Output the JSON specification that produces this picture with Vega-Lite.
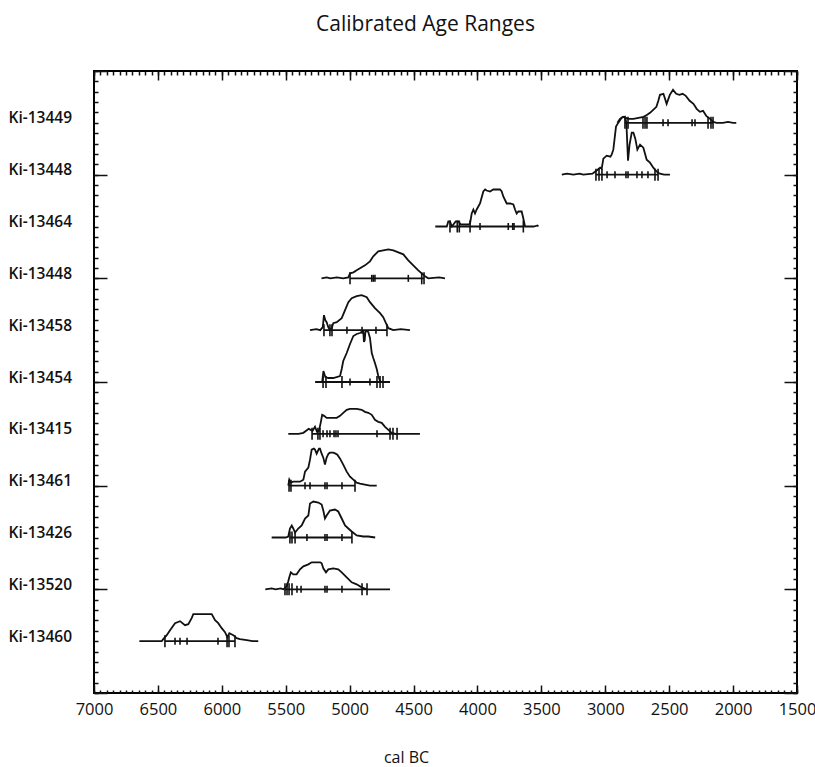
{
  "$schema": "https://vega.github.io/schema/vega-lite/v6.json",
  "width": 703,
  "height": 622,
  "autosize": {"type": "none"},
  "padding": {"left": 94, "top": 71, "right": 18, "bottom": 74},
  "title": {"text": "Calibrated Age Ranges", "fontSize": 21, "fontWeight": "normal", "font": "Open Sans", "color": "#111", "anchor": "middle", "frame": "group", "dx": -20, "offset": 16, "baseline": "alphabetic"},
  "config": {
    "view": {"stroke": "#000", "strokeWidth": 2},
    "font": "Open Sans",
    "axis": {"domain": false, "grid": false, "tickColor": "#111", "tickWidth": 1.5, "labelColor": "#111", "titleColor": "#111"}
  },
  "datasets": {
    "curves": [
      {"id":1,"sample":"Ki-13449","year":2905,"density":0},{"id":1,"sample":"Ki-13449","year":2885,"density":4},{"id":1,"sample":"Ki-13449","year":2860,"density":6},{"id":1,"sample":"Ki-13449","year":2840,"density":5},{"id":1,"sample":"Ki-13449","year":2820,"density":4},{"id":1,"sample":"Ki-13449","year":2780,"density":4},{"id":1,"sample":"Ki-13449","year":2740,"density":5},{"id":1,"sample":"Ki-13449","year":2700,"density":6},{"id":1,"sample":"Ki-13449","year":2672,"density":8},{"id":1,"sample":"Ki-13449","year":2650,"density":10},{"id":1,"sample":"Ki-13449","year":2625,"density":13},{"id":1,"sample":"Ki-13449","year":2600,"density":16},{"id":1,"sample":"Ki-13449","year":2585,"density":22},{"id":1,"sample":"Ki-13449","year":2572,"density":28},{"id":1,"sample":"Ki-13449","year":2545,"density":29},{"id":1,"sample":"Ki-13449","year":2520,"density":19},{"id":1,"sample":"Ki-13449","year":2495,"density":28},{"id":1,"sample":"Ki-13449","year":2470,"density":33},{"id":1,"sample":"Ki-13449","year":2445,"density":29},{"id":1,"sample":"Ki-13449","year":2420,"density":28},{"id":1,"sample":"Ki-13449","year":2395,"density":29},{"id":1,"sample":"Ki-13449","year":2370,"density":27},{"id":1,"sample":"Ki-13449","year":2340,"density":22},{"id":1,"sample":"Ki-13449","year":2310,"density":19},{"id":1,"sample":"Ki-13449","year":2285,"density":14},{"id":1,"sample":"Ki-13449","year":2260,"density":11},{"id":1,"sample":"Ki-13449","year":2235,"density":12},{"id":1,"sample":"Ki-13449","year":2210,"density":7},{"id":1,"sample":"Ki-13449","year":2180,"density":4},{"id":1,"sample":"Ki-13449","year":2155,"density":1},{"id":1,"sample":"Ki-13449","year":2130,"density":0},{"id":1,"sample":"Ki-13449","year":2080,"density":0},{"id":1,"sample":"Ki-13449","year":2040,"density":1},{"id":1,"sample":"Ki-13449","year":2000,"density":0},{"id":1,"sample":"Ki-13449","year":1975,"density":0},
      {"id":2,"sample":"Ki-13448","year":3340,"density":0},{"id":2,"sample":"Ki-13448","year":3300,"density":1},{"id":2,"sample":"Ki-13448","year":3250,"density":0},{"id":2,"sample":"Ki-13448","year":3200,"density":1},{"id":2,"sample":"Ki-13448","year":3172,"density":0},{"id":2,"sample":"Ki-13448","year":3100,"density":1},{"id":2,"sample":"Ki-13448","year":3070,"density":4},{"id":2,"sample":"Ki-13448","year":3040,"density":7},{"id":2,"sample":"Ki-13448","year":3028,"density":6},{"id":2,"sample":"Ki-13448","year":3015,"density":16},{"id":2,"sample":"Ki-13448","year":2989,"density":19},{"id":2,"sample":"Ki-13448","year":2960,"density":18},{"id":2,"sample":"Ki-13448","year":2950,"density":20},{"id":2,"sample":"Ki-13448","year":2937,"density":25},{"id":2,"sample":"Ki-13448","year":2916,"density":48},{"id":2,"sample":"Ki-13448","year":2898,"density":52},{"id":2,"sample":"Ki-13448","year":2872,"density":57},{"id":2,"sample":"Ki-13448","year":2846,"density":58},{"id":2,"sample":"Ki-13448","year":2835,"density":52},{"id":2,"sample":"Ki-13448","year":2822,"density":14},{"id":2,"sample":"Ki-13448","year":2810,"density":30},{"id":2,"sample":"Ki-13448","year":2793,"density":42},{"id":2,"sample":"Ki-13448","year":2780,"density":42},{"id":2,"sample":"Ki-13448","year":2765,"density":36},{"id":2,"sample":"Ki-13448","year":2749,"density":25},{"id":2,"sample":"Ki-13448","year":2728,"density":30},{"id":2,"sample":"Ki-13448","year":2702,"density":27},{"id":2,"sample":"Ki-13448","year":2676,"density":15},{"id":2,"sample":"Ki-13448","year":2650,"density":12},{"id":2,"sample":"Ki-13448","year":2624,"density":7},{"id":2,"sample":"Ki-13448","year":2598,"density":3},{"id":2,"sample":"Ki-13448","year":2572,"density":1},{"id":2,"sample":"Ki-13448","year":2540,"density":0},{"id":2,"sample":"Ki-13448","year":2494,"density":0},
      {"id":3,"sample":"Ki-13464","year":4330,"density":0},{"id":3,"sample":"Ki-13464","year":4240,"density":0},{"id":3,"sample":"Ki-13464","year":4228,"density":5},{"id":3,"sample":"Ki-13464","year":4215,"density":5},{"id":3,"sample":"Ki-13464","year":4200,"density":0},{"id":3,"sample":"Ki-13464","year":4170,"density":5},{"id":3,"sample":"Ki-13464","year":4150,"density":5},{"id":3,"sample":"Ki-13464","year":4130,"density":2},{"id":3,"sample":"Ki-13464","year":4070,"density":2},{"id":3,"sample":"Ki-13464","year":4058,"density":3},{"id":3,"sample":"Ki-13464","year":4045,"density":13},{"id":3,"sample":"Ki-13464","year":4032,"density":17},{"id":3,"sample":"Ki-13464","year":4019,"density":13},{"id":3,"sample":"Ki-13464","year":4006,"density":17},{"id":3,"sample":"Ki-13464","year":3980,"density":23},{"id":3,"sample":"Ki-13464","year":3965,"density":30},{"id":3,"sample":"Ki-13464","year":3954,"density":35},{"id":3,"sample":"Ki-13464","year":3940,"density":37},{"id":3,"sample":"Ki-13464","year":3928,"density":36},{"id":3,"sample":"Ki-13464","year":3902,"density":35},{"id":3,"sample":"Ki-13464","year":3876,"density":37},{"id":3,"sample":"Ki-13464","year":3850,"density":37},{"id":3,"sample":"Ki-13464","year":3824,"density":37},{"id":3,"sample":"Ki-13464","year":3810,"density":35},{"id":3,"sample":"Ki-13464","year":3798,"density":30},{"id":3,"sample":"Ki-13464","year":3771,"density":23},{"id":3,"sample":"Ki-13464","year":3745,"density":23},{"id":3,"sample":"Ki-13464","year":3719,"density":22},{"id":3,"sample":"Ki-13464","year":3706,"density":17},{"id":3,"sample":"Ki-13464","year":3693,"density":13},{"id":3,"sample":"Ki-13464","year":3680,"density":15},{"id":3,"sample":"Ki-13464","year":3654,"density":15},{"id":3,"sample":"Ki-13464","year":3641,"density":8},{"id":3,"sample":"Ki-13464","year":3628,"density":0},{"id":3,"sample":"Ki-13464","year":3560,"density":0},{"id":3,"sample":"Ki-13464","year":3530,"density":1},{"id":3,"sample":"Ki-13464","year":3524,"density":0},
      {"id":4,"sample":"Ki-13448","year":5220,"density":0},{"id":4,"sample":"Ki-13448","year":5180,"density":1},{"id":4,"sample":"Ki-13448","year":5150,"density":0},{"id":4,"sample":"Ki-13448","year":5100,"density":1},{"id":4,"sample":"Ki-13448","year":5050,"density":0},{"id":4,"sample":"Ki-13448","year":5010,"density":1},{"id":4,"sample":"Ki-13448","year":4997,"density":5},{"id":4,"sample":"Ki-13448","year":4970,"density":6},{"id":4,"sample":"Ki-13448","year":4945,"density":8},{"id":4,"sample":"Ki-13448","year":4919,"density":10},{"id":4,"sample":"Ki-13448","year":4880,"density":13},{"id":4,"sample":"Ki-13448","year":4841,"density":17},{"id":4,"sample":"Ki-13448","year":4815,"density":22},{"id":4,"sample":"Ki-13448","year":4776,"density":27},{"id":4,"sample":"Ki-13448","year":4737,"density":28},{"id":4,"sample":"Ki-13448","year":4697,"density":29},{"id":4,"sample":"Ki-13448","year":4658,"density":28},{"id":4,"sample":"Ki-13448","year":4619,"density":26},{"id":4,"sample":"Ki-13448","year":4580,"density":24},{"id":4,"sample":"Ki-13448","year":4541,"density":18},{"id":4,"sample":"Ki-13448","year":4502,"density":13},{"id":4,"sample":"Ki-13448","year":4463,"density":8},{"id":4,"sample":"Ki-13448","year":4436,"density":5},{"id":4,"sample":"Ki-13448","year":4410,"density":2},{"id":4,"sample":"Ki-13448","year":4385,"density":0},{"id":4,"sample":"Ki-13448","year":4300,"density":1},{"id":4,"sample":"Ki-13448","year":4254,"density":0},
      {"id":5,"sample":"Ki-13458","year":5310,"density":0},{"id":5,"sample":"Ki-13458","year":5260,"density":1},{"id":5,"sample":"Ki-13458","year":5230,"density":0},{"id":5,"sample":"Ki-13458","year":5210,"density":3},{"id":5,"sample":"Ki-13458","year":5201,"density":15},{"id":5,"sample":"Ki-13458","year":5190,"density":10},{"id":5,"sample":"Ki-13458","year":5180,"density":8},{"id":5,"sample":"Ki-13458","year":5167,"density":3},{"id":5,"sample":"Ki-13458","year":5154,"density":0},{"id":5,"sample":"Ki-13458","year":5140,"density":2},{"id":5,"sample":"Ki-13458","year":5128,"density":7},{"id":5,"sample":"Ki-13458","year":5101,"density":8},{"id":5,"sample":"Ki-13458","year":5062,"density":12},{"id":5,"sample":"Ki-13458","year":5036,"density":20},{"id":5,"sample":"Ki-13458","year":5010,"density":28},{"id":5,"sample":"Ki-13458","year":4984,"density":32},{"id":5,"sample":"Ki-13458","year":4945,"density":34},{"id":5,"sample":"Ki-13458","year":4906,"density":35},{"id":5,"sample":"Ki-13458","year":4866,"density":33},{"id":5,"sample":"Ki-13458","year":4841,"density":28},{"id":5,"sample":"Ki-13458","year":4802,"density":22},{"id":5,"sample":"Ki-13458","year":4762,"density":17},{"id":5,"sample":"Ki-13458","year":4737,"density":13},{"id":5,"sample":"Ki-13458","year":4716,"density":7},{"id":5,"sample":"Ki-13458","year":4697,"density":2},{"id":5,"sample":"Ki-13458","year":4658,"density":0},{"id":5,"sample":"Ki-13458","year":4600,"density":1},{"id":5,"sample":"Ki-13458","year":4528,"density":0},
      {"id":6,"sample":"Ki-13454","year":5270,"density":0},{"id":6,"sample":"Ki-13454","year":5215,"density":0},{"id":6,"sample":"Ki-13454","year":5205,"density":11},{"id":6,"sample":"Ki-13454","year":5190,"density":5},{"id":6,"sample":"Ki-13454","year":5167,"density":4},{"id":6,"sample":"Ki-13454","year":5128,"density":4},{"id":6,"sample":"Ki-13454","year":5075,"density":6},{"id":6,"sample":"Ki-13454","year":5062,"density":13},{"id":6,"sample":"Ki-13454","year":5050,"density":21},{"id":6,"sample":"Ki-13454","year":5023,"density":29},{"id":6,"sample":"Ki-13454","year":4997,"density":38},{"id":6,"sample":"Ki-13454","year":4971,"density":46},{"id":6,"sample":"Ki-13454","year":4945,"density":48},{"id":6,"sample":"Ki-13454","year":4919,"density":49},{"id":6,"sample":"Ki-13454","year":4906,"density":50},{"id":6,"sample":"Ki-13454","year":4893,"density":50},{"id":6,"sample":"Ki-13454","year":4888,"density":40},{"id":6,"sample":"Ki-13454","year":4882,"density":42},{"id":6,"sample":"Ki-13454","year":4877,"density":50},{"id":6,"sample":"Ki-13454","year":4866,"density":51},{"id":6,"sample":"Ki-13454","year":4854,"density":50},{"id":6,"sample":"Ki-13454","year":4841,"density":44},{"id":6,"sample":"Ki-13454","year":4827,"density":29},{"id":6,"sample":"Ki-13454","year":4815,"density":24},{"id":6,"sample":"Ki-13454","year":4802,"density":19},{"id":6,"sample":"Ki-13454","year":4788,"density":13},{"id":6,"sample":"Ki-13454","year":4776,"density":6},{"id":6,"sample":"Ki-13454","year":4762,"density":1},{"id":6,"sample":"Ki-13454","year":4750,"density":0},{"id":6,"sample":"Ki-13454","year":4684,"density":0},
      {"id":7,"sample":"Ki-13415","year":5480,"density":0},{"id":7,"sample":"Ki-13415","year":5400,"density":0},{"id":7,"sample":"Ki-13415","year":5362,"density":1},{"id":7,"sample":"Ki-13415","year":5320,"density":5},{"id":7,"sample":"Ki-13415","year":5290,"density":3},{"id":7,"sample":"Ki-13415","year":5271,"density":7},{"id":7,"sample":"Ki-13415","year":5255,"density":2},{"id":7,"sample":"Ki-13415","year":5240,"density":3},{"id":7,"sample":"Ki-13415","year":5225,"density":12},{"id":7,"sample":"Ki-13415","year":5215,"density":19},{"id":7,"sample":"Ki-13415","year":5200,"density":18},{"id":7,"sample":"Ki-13415","year":5180,"density":16},{"id":7,"sample":"Ki-13415","year":5154,"density":16},{"id":7,"sample":"Ki-13415","year":5101,"density":16},{"id":7,"sample":"Ki-13415","year":5075,"density":18},{"id":7,"sample":"Ki-13415","year":5050,"density":21},{"id":7,"sample":"Ki-13415","year":5023,"density":24},{"id":7,"sample":"Ki-13415","year":4997,"density":25},{"id":7,"sample":"Ki-13415","year":4945,"density":25},{"id":7,"sample":"Ki-13415","year":4906,"density":24},{"id":7,"sample":"Ki-13415","year":4880,"density":22},{"id":7,"sample":"Ki-13415","year":4854,"density":21},{"id":7,"sample":"Ki-13415","year":4827,"density":19},{"id":7,"sample":"Ki-13415","year":4802,"density":14},{"id":7,"sample":"Ki-13415","year":4776,"density":12},{"id":7,"sample":"Ki-13415","year":4749,"density":11},{"id":7,"sample":"Ki-13415","year":4723,"density":7},{"id":7,"sample":"Ki-13415","year":4697,"density":4},{"id":7,"sample":"Ki-13415","year":4671,"density":1},{"id":7,"sample":"Ki-13415","year":4640,"density":0},{"id":7,"sample":"Ki-13415","year":4450,"density":0},
      {"id":8,"sample":"Ki-13461","year":5480,"density":0},{"id":8,"sample":"Ki-13461","year":5472,"density":6},{"id":8,"sample":"Ki-13461","year":5460,"density":3},{"id":8,"sample":"Ki-13461","year":5441,"density":4},{"id":8,"sample":"Ki-13461","year":5388,"density":4},{"id":8,"sample":"Ki-13461","year":5362,"density":6},{"id":8,"sample":"Ki-13461","year":5349,"density":14},{"id":8,"sample":"Ki-13461","year":5323,"density":18},{"id":8,"sample":"Ki-13461","year":5310,"density":26},{"id":8,"sample":"Ki-13461","year":5297,"density":36},{"id":8,"sample":"Ki-13461","year":5280,"density":37},{"id":8,"sample":"Ki-13461","year":5271,"density":36},{"id":8,"sample":"Ki-13461","year":5258,"density":32},{"id":8,"sample":"Ki-13461","year":5240,"density":37},{"id":8,"sample":"Ki-13461","year":5232,"density":37},{"id":8,"sample":"Ki-13461","year":5219,"density":32},{"id":8,"sample":"Ki-13461","year":5206,"density":28},{"id":8,"sample":"Ki-13461","year":5193,"density":21},{"id":8,"sample":"Ki-13461","year":5180,"density":28},{"id":8,"sample":"Ki-13461","year":5165,"density":32},{"id":8,"sample":"Ki-13461","year":5154,"density":33},{"id":8,"sample":"Ki-13461","year":5128,"density":33},{"id":8,"sample":"Ki-13461","year":5110,"density":32},{"id":8,"sample":"Ki-13461","year":5096,"density":31},{"id":8,"sample":"Ki-13461","year":5075,"density":27},{"id":8,"sample":"Ki-13461","year":5050,"density":21},{"id":8,"sample":"Ki-13461","year":5023,"density":14},{"id":8,"sample":"Ki-13461","year":4997,"density":9},{"id":8,"sample":"Ki-13461","year":4971,"density":6},{"id":8,"sample":"Ki-13461","year":4945,"density":3},{"id":8,"sample":"Ki-13461","year":4919,"density":2},{"id":8,"sample":"Ki-13461","year":4880,"density":1},{"id":8,"sample":"Ki-13461","year":4841,"density":0},{"id":8,"sample":"Ki-13461","year":4788,"density":0},
      {"id":9,"sample":"Ki-13426","year":5610,"density":0},{"id":9,"sample":"Ki-13426","year":5500,"density":0},{"id":9,"sample":"Ki-13426","year":5480,"density":1},{"id":9,"sample":"Ki-13426","year":5467,"density":9},{"id":9,"sample":"Ki-13426","year":5453,"density":12},{"id":9,"sample":"Ki-13426","year":5441,"density":9},{"id":9,"sample":"Ki-13426","year":5427,"density":5},{"id":9,"sample":"Ki-13426","year":5402,"density":9},{"id":9,"sample":"Ki-13426","year":5375,"density":12},{"id":9,"sample":"Ki-13426","year":5349,"density":19},{"id":9,"sample":"Ki-13426","year":5323,"density":22},{"id":9,"sample":"Ki-13426","year":5310,"density":34},{"id":9,"sample":"Ki-13426","year":5284,"density":36},{"id":9,"sample":"Ki-13426","year":5245,"density":35},{"id":9,"sample":"Ki-13426","year":5219,"density":33},{"id":9,"sample":"Ki-13426","year":5206,"density":27},{"id":9,"sample":"Ki-13426","year":5193,"density":19},{"id":9,"sample":"Ki-13426","year":5180,"density":22},{"id":9,"sample":"Ki-13426","year":5154,"density":27},{"id":9,"sample":"Ki-13426","year":5115,"density":28},{"id":9,"sample":"Ki-13426","year":5089,"density":26},{"id":9,"sample":"Ki-13426","year":5062,"density":19},{"id":9,"sample":"Ki-13426","year":5036,"density":12},{"id":9,"sample":"Ki-13426","year":5010,"density":9},{"id":9,"sample":"Ki-13426","year":4984,"density":6},{"id":9,"sample":"Ki-13426","year":4945,"density":2},{"id":9,"sample":"Ki-13426","year":4893,"density":1},{"id":9,"sample":"Ki-13426","year":4854,"density":1},{"id":9,"sample":"Ki-13426","year":4800,"density":0},
      {"id":10,"sample":"Ki-13520","year":5660,"density":0},{"id":10,"sample":"Ki-13520","year":5610,"density":1},{"id":10,"sample":"Ki-13520","year":5580,"density":0},{"id":10,"sample":"Ki-13520","year":5540,"density":1},{"id":10,"sample":"Ki-13520","year":5519,"density":0},{"id":10,"sample":"Ki-13520","year":5492,"density":3},{"id":10,"sample":"Ki-13520","year":5480,"density":8},{"id":10,"sample":"Ki-13520","year":5472,"density":12},{"id":10,"sample":"Ki-13520","year":5460,"density":17},{"id":10,"sample":"Ki-13520","year":5441,"density":15},{"id":10,"sample":"Ki-13520","year":5415,"density":15},{"id":10,"sample":"Ki-13520","year":5388,"density":20},{"id":10,"sample":"Ki-13520","year":5362,"density":23},{"id":10,"sample":"Ki-13520","year":5323,"density":25},{"id":10,"sample":"Ki-13520","year":5297,"density":27},{"id":10,"sample":"Ki-13520","year":5258,"density":27},{"id":10,"sample":"Ki-13520","year":5230,"density":27},{"id":10,"sample":"Ki-13520","year":5219,"density":26},{"id":10,"sample":"Ki-13520","year":5206,"density":21},{"id":10,"sample":"Ki-13520","year":5185,"density":17},{"id":10,"sample":"Ki-13520","year":5167,"density":20},{"id":10,"sample":"Ki-13520","year":5128,"density":21},{"id":10,"sample":"Ki-13520","year":5089,"density":20},{"id":10,"sample":"Ki-13520","year":5062,"density":17},{"id":10,"sample":"Ki-13520","year":5023,"density":12},{"id":10,"sample":"Ki-13520","year":4984,"density":7},{"id":10,"sample":"Ki-13520","year":4945,"density":5},{"id":10,"sample":"Ki-13520","year":4906,"density":2},{"id":10,"sample":"Ki-13520","year":4866,"density":0},{"id":10,"sample":"Ki-13520","year":4684,"density":0},
      {"id":11,"sample":"Ki-13460","year":6645,"density":0},{"id":11,"sample":"Ki-13460","year":6470,"density":0},{"id":11,"sample":"Ki-13460","year":6458,"density":2},{"id":11,"sample":"Ki-13460","year":6431,"density":6},{"id":11,"sample":"Ki-13460","year":6405,"density":11},{"id":11,"sample":"Ki-13460","year":6366,"density":18},{"id":11,"sample":"Ki-13460","year":6327,"density":20},{"id":11,"sample":"Ki-13460","year":6288,"density":16},{"id":11,"sample":"Ki-13460","year":6262,"density":17},{"id":11,"sample":"Ki-13460","year":6236,"density":23},{"id":11,"sample":"Ki-13460","year":6223,"density":27},{"id":11,"sample":"Ki-13460","year":6184,"density":27},{"id":11,"sample":"Ki-13460","year":6106,"density":27},{"id":11,"sample":"Ki-13460","year":6079,"density":27},{"id":11,"sample":"Ki-13460","year":6053,"density":21},{"id":11,"sample":"Ki-13460","year":6028,"density":18},{"id":11,"sample":"Ki-13460","year":6001,"density":13},{"id":11,"sample":"Ki-13460","year":5975,"density":9},{"id":11,"sample":"Ki-13460","year":5957,"density":4},{"id":11,"sample":"Ki-13460","year":5941,"density":8},{"id":11,"sample":"Ki-13460","year":5910,"density":6},{"id":11,"sample":"Ki-13460","year":5884,"density":3},{"id":11,"sample":"Ki-13460","year":5858,"density":2},{"id":11,"sample":"Ki-13460","year":5805,"density":1},{"id":11,"sample":"Ki-13460","year":5760,"density":0},{"id":11,"sample":"Ki-13460","year":5715,"density":0}
    ],
    "ticks": [
      {"id":1,"year":2846,"range":"95.4%"},{"id":1,"year":2822,"range":"95.4%"},{"id":1,"year":2705,"range":"95.4%"},{"id":1,"year":2689,"range":"95.4%"},{"id":1,"year":2674,"range":"95.4%"},{"id":1,"year":2548,"range":"68.2%"},{"id":1,"year":2509,"range":"68.2%"},{"id":1,"year":2321,"range":"68.2%"},{"id":1,"year":2298,"range":"68.2%"},{"id":1,"year":2196,"range":"95.4%"},{"id":1,"year":2173,"range":"95.4%"},{"id":1,"year":2157,"range":"95.4%"},
      {"id":2,"year":3073,"range":"95.4%"},{"id":2,"year":3049,"range":"95.4%"},{"id":2,"year":3026,"range":"95.4%"},{"id":2,"year":2986,"range":"68.2%"},{"id":2,"year":2924,"range":"68.2%"},{"id":2,"year":2838,"range":"68.2%"},{"id":2,"year":2822,"range":"68.2%"},{"id":2,"year":2752,"range":"68.2%"},{"id":2,"year":2713,"range":"68.2%"},{"id":2,"year":2666,"range":"68.2%"},{"id":2,"year":2611,"range":"95.4%"},{"id":2,"year":2587,"range":"95.4%"},
      {"id":3,"year":4215,"range":"95.4%"},{"id":3,"year":4158,"range":"95.4%"},{"id":3,"year":4142,"range":"95.4%"},{"id":3,"year":4058,"range":"95.4%"},{"id":3,"year":3980,"range":"68.2%"},{"id":3,"year":3759,"range":"68.2%"},{"id":3,"year":3724,"range":"68.2%"},{"id":3,"year":3714,"range":"68.2%"},{"id":3,"year":3641,"range":"95.4%"},
      {"id":4,"year":4997,"range":"95.4%"},{"id":4,"year":4827,"range":"68.2%"},{"id":4,"year":4815,"range":"68.2%"},{"id":4,"year":4802,"range":"68.2%"},{"id":4,"year":4541,"range":"68.2%"},{"id":4,"year":4436,"range":"95.4%"},{"id":4,"year":4418,"range":"95.4%"},
      {"id":5,"year":5201,"range":"95.4%"},{"id":5,"year":5154,"range":"95.4%"},{"id":5,"year":5138,"range":"95.4%"},{"id":5,"year":5021,"range":"68.2%"},{"id":5,"year":4903,"range":"68.2%"},{"id":5,"year":4794,"range":"68.2%"},{"id":5,"year":4708,"range":"95.4%"},
      {"id":6,"year":5208,"range":"95.4%"},{"id":6,"year":5185,"range":"95.4%"},{"id":6,"year":5060,"range":"95.4%"},{"id":6,"year":4997,"range":"68.2%"},{"id":6,"year":4841,"range":"68.2%"},{"id":6,"year":4786,"range":"95.4%"},{"id":6,"year":4762,"range":"95.4%"},{"id":6,"year":4739,"range":"95.4%"},
      {"id":7,"year":5294,"range":"95.4%"},{"id":7,"year":5248,"range":"95.4%"},{"id":7,"year":5232,"range":"95.4%"},{"id":7,"year":5208,"range":"68.2%"},{"id":7,"year":5177,"range":"68.2%"},{"id":7,"year":5154,"range":"68.2%"},{"id":7,"year":5122,"range":"68.2%"},{"id":7,"year":5107,"range":"68.2%"},{"id":7,"year":5091,"range":"68.2%"},{"id":7,"year":4786,"range":"68.2%"},{"id":7,"year":4684,"range":"95.4%"},{"id":7,"year":4661,"range":"95.4%"},{"id":7,"year":4629,"range":"95.4%"},
      {"id":8,"year":5474,"range":"95.4%"},{"id":8,"year":5459,"range":"95.4%"},{"id":8,"year":5349,"range":"68.2%"},{"id":8,"year":5310,"range":"68.2%"},{"id":8,"year":5193,"range":"68.2%"},{"id":8,"year":5177,"range":"68.2%"},{"id":8,"year":5060,"range":"68.2%"},{"id":8,"year":4958,"range":"95.4%"},
      {"id":9,"year":5467,"range":"95.4%"},{"id":9,"year":5451,"range":"95.4%"},{"id":9,"year":5427,"range":"95.4%"},{"id":9,"year":5334,"range":"68.2%"},{"id":9,"year":5193,"range":"68.2%"},{"id":9,"year":5177,"range":"68.2%"},{"id":9,"year":5060,"range":"68.2%"},{"id":9,"year":4982,"range":"95.4%"},
      {"id":10,"year":5506,"range":"95.4%"},{"id":10,"year":5490,"range":"95.4%"},{"id":10,"year":5474,"range":"95.4%"},{"id":10,"year":5451,"range":"95.4%"},{"id":10,"year":5412,"range":"68.2%"},{"id":10,"year":5380,"range":"68.2%"},{"id":10,"year":5193,"range":"68.2%"},{"id":10,"year":5177,"range":"68.2%"},{"id":10,"year":5060,"range":"68.2%"},{"id":10,"year":4903,"range":"95.4%"},{"id":10,"year":4864,"range":"95.4%"},
      {"id":11,"year":6445,"range":"95.4%"},{"id":11,"year":6366,"range":"68.2%"},{"id":11,"year":6327,"range":"68.2%"},{"id":11,"year":6272,"range":"68.2%"},{"id":11,"year":6030,"range":"68.2%"},{"id":11,"year":5959,"range":"95.4%"},{"id":11,"year":5944,"range":"95.4%"},{"id":11,"year":5897,"range":"95.4%"}
    ]
  },
  "resolve": {"scale": {"y": "independent"}, "axis": {"x": "independent", "y": "independent"}},
  "layer": [
    {
      "layer": [
        {
          "data": {"name": "curves"},
          "mark": {"type": "line", "color": "#111", "strokeWidth": 1.8, "interpolate": "linear"},
          "encoding": {
            "x": {"field": "year", "type": "quantitative", "scale": {"domain": [1500, 7000], "reverse": true, "nice": false, "zero": false},
                  "axis": {"orient": "bottom", "values": [7000, 6500, 6000, 5500, 5000, 4500, 4000, 3500, 3000, 2500, 2000, 1500], "format": "d", "tickSize": -8, "labelFontSize": 16.5, "labelPadding": 16, "labelFlush": false, "labelOverlap": false, "title": "cal BC", "titleFontSize": 16, "titleFontWeight": "normal", "titleX": 312, "titleY": 64, "titleBaseline": "middle", "titleAlign": "center"}},
            "y": {"field": "id", "type": "ordinal", "scale": {"type": "band", "paddingInner": 0, "paddingOuter": 0.5},
                  "axis": {"orient": "left", "ticks": false, "title": null, "labelAlign": "left", "labelBaseline": "middle", "labelPadding": 86, "labelOffset": -4.5, "labelFontSize": 15.5, "labelFontWeight": 600,
                           "labelExpr": "['', 'Ki-13449', 'Ki-13448', 'Ki-13464', 'Ki-13448', 'Ki-13458', 'Ki-13454', 'Ki-13415', 'Ki-13461', 'Ki-13426', 'Ki-13520', 'Ki-13460'][datum.value]"}},
            "yOffset": {"field": "density", "type": "quantitative", "scale": {"domain": [0, 51.83], "range": [25.92, -25.92]}},
            "detail": {"field": "id"},
            "order": {"field": "year", "type": "quantitative"}
          }
        },
        {
          "data": {"name": "ticks"},
          "mark": {"type": "rule", "color": "#111", "strokeWidth": 1.8},
          "encoding": {
            "x": {"aggregate": "min", "field": "year", "type": "quantitative", "scale": {"domain": [1500, 7000], "reverse": true, "nice": false, "zero": false}},
            "x2": {"aggregate": "max", "field": "year"},
            "y": {"field": "id", "type": "ordinal", "scale": {"type": "band", "paddingInner": 0, "paddingOuter": 0.5}}
          }
        },
        {
          "data": {"name": "ticks"},
          "mark": {"type": "tick", "orient": "vertical", "color": "#111", "opacity": 1, "thickness": 1.6},
          "encoding": {
            "x": {"field": "year", "type": "quantitative", "scale": {"domain": [1500, 7000], "reverse": true, "nice": false, "zero": false}},
            "y": {"field": "id", "type": "ordinal", "scale": {"type": "band", "paddingInner": 0, "paddingOuter": 0.5}},
            "size": {"field": "range", "type": "nominal", "scale": {"domain": ["68.2%", "95.4%"], "range": [7, 12]}, "legend": null}
          }
        }
      ]
    },
    {
      "data": {"values": [{}]},
      "mark": {"type": "point", "opacity": 0},
      "encoding": {
        "x": {"datum": 7000, "type": "quantitative", "scale": {"domain": [1500, 7000], "reverse": true, "nice": false, "zero": false},
              "axis": {"orient": "bottom", "tickCount": 110, "labels": false, "tickSize": -3, "title": null}},
        "y": {"datum": 0, "type": "quantitative", "scale": {"domain": [0, 12], "reverse": true, "nice": false, "zero": false},
              "axis": {"orient": "left", "tickCount": 60, "labels": false, "tickSize": -4, "title": null}}
      }
    },
    {
      "data": {"values": [{}]},
      "mark": {"type": "point", "opacity": 0},
      "encoding": {
        "x": {"datum": 7000, "type": "quantitative", "scale": {"domain": [1500, 7000], "reverse": true, "nice": false, "zero": false},
              "axis": {"orient": "top", "tickCount": 110, "labels": false, "tickSize": -4, "title": null}},
        "y": {"datum": 0, "type": "quantitative", "scale": {"domain": [0, 12], "reverse": true, "nice": false, "zero": false},
              "axis": {"orient": "right", "tickCount": 60, "labels": false, "tickSize": -4, "title": null}}
      }
    },
    {
      "data": {"values": [{}]},
      "mark": {"type": "point", "opacity": 0},
      "encoding": {
        "x": {"datum": 7000, "type": "quantitative", "scale": {"domain": [1500, 7000], "reverse": true, "nice": false, "zero": false},
              "axis": {"orient": "top", "values": [7000, 6500, 6000, 5500, 5000, 4500, 4000, 3500, 3000, 2500, 2000, 1500], "labels": false, "tickSize": -9, "title": null}},
        "y": {"datum": 0, "type": "quantitative", "scale": {"domain": [0, 12], "reverse": true, "nice": false, "zero": false},
              "axis": {"orient": "left", "values": [0, 2, 4, 6, 8, 10, 12], "labels": false, "tickSize": -13, "title": null}}
      }
    },
    {
      "data": {"values": [{}]},
      "mark": {"type": "point", "opacity": 0},
      "encoding": {
        "y": {"datum": 0, "type": "quantitative", "scale": {"domain": [0, 12], "reverse": true, "nice": false, "zero": false},
              "axis": {"orient": "right", "values": [0, 2, 4, 6, 8, 10, 12], "labels": false, "tickSize": -13, "title": null}}
      }
    }
  ]
}
